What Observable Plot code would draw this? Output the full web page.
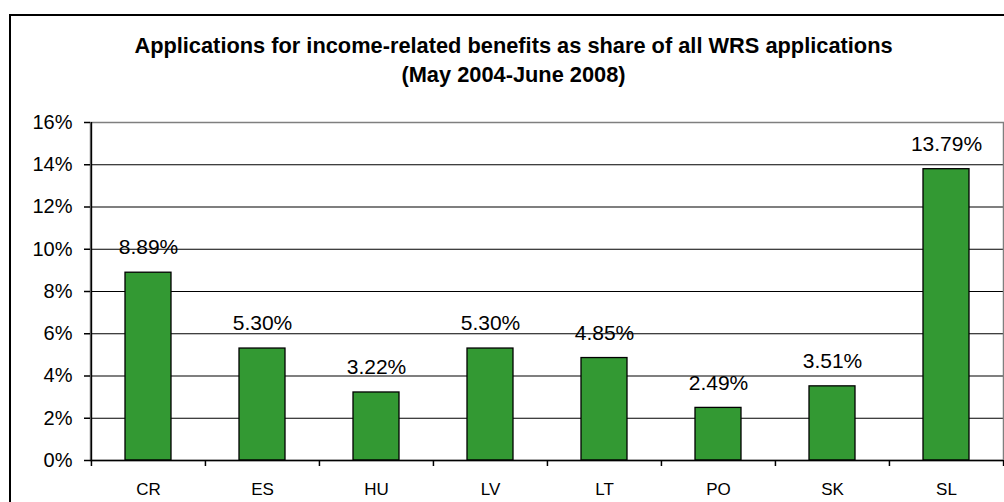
<!DOCTYPE html>
<html><head><meta charset="utf-8">
<script src="https://cdn.jsdelivr.net/npm/d3@7"></script>
<script src="https://cdn.jsdelivr.net/npm/@observablehq/plot@0.6"></script>
<style>
body{margin:0;background:#fff;font-family:"Liberation Sans",Arial,sans-serif;}
#wrap{position:relative;width:1004px;height:502px;overflow:hidden;background:#fff;}
#border{position:absolute;left:9px;top:14px;width:1020px;height:520px;border:2px solid #000;box-sizing:border-box;z-index:2;pointer-events:none;}
.t{position:absolute;left:0;width:1027px;text-align:center;font-weight:bold;font-size:21.8px;line-height:24px;color:#000;white-space:nowrap;}
#chart{position:absolute;left:0;top:100px;z-index:1;}
</style></head>
<body>
<div id="wrap">
  <div id="border"></div>
  <div class="t" id="t1" style="top:34px"></div>
  <div class="t" id="t2" style="top:63px"></div>
  <div id="chart"></div>
</div>
<script>
const titleLines = ["Applications for income-related benefits as share of all WRS applications", "(May 2004-June 2008)"];
const countries = ["CR","ES","HU","LV","LT","PO","SK","SL"];
const shares = [8.89, 5.30, 3.22, 5.30, 4.85, 2.49, 3.51, 13.79];
const yTicks = [0, 2, 4, 6, 8, 10, 12, 14, 16];

document.getElementById("t1").textContent = titleLines[0];
document.getElementById("t2").textContent = titleLines[1];

const data = countries.map((c, i) => ({country: c, share: shares[i]}));

const W = 1004, H = 402, mL = 90, mR = 1, mT = 22, mB = 42;
const step = (W - mL - mR) / countries.length;

const chart = Plot.plot({
  width: W, height: H,
  marginLeft: mL, marginRight: mR, marginTop: mT, marginBottom: mB,
  style: {fontFamily: "'Liberation Sans', Arial, sans-serif", background: "transparent", color: "#000"},
  x: {domain: countries, type: "band", paddingInner: 0.6, paddingOuter: 0.3, label: null},
  y: {domain: [0, 16], label: null},
  marks: [
    Plot.ruleY(yTicks.filter(t => t > 0 && t < 16), {y: d => d, stroke: "#000", strokeWidth: 1.2}),
    Plot.frame({stroke: "#7f7f7f", strokeWidth: 1.5}),
    Plot.barY(data, {x: "country", y: "share", fill: "#339933", stroke: "#000", strokeWidth: 1.3}),
    Plot.ruleX([0], {x: () => countries[0], dx: -step / 2, stroke: "#000", strokeWidth: 1.5}),
    Plot.ruleY([0], {stroke: "#000", strokeWidth: 1.5}),
    Plot.ruleX(countries, {x: d => d, dx: -step / 2, y1: 0, y2: 0, insetBottom: -6, stroke: "#000", strokeWidth: 1.5}),
    Plot.ruleX([countries[countries.length - 1]], {x: d => d, dx: step / 2, y1: 0, y2: 0, insetBottom: -6, stroke: "#000", strokeWidth: 1.5}),
    Plot.ruleY(yTicks, {y: d => d, insetLeft: -6, insetRight: W - mL - mR, stroke: "#000", strokeWidth: 1.5}),
    Plot.axisY({ticks: yTicks, tickFormat: d => d + "%", tickSize: 0, tickPadding: 18, fontSize: 20}),
    Plot.axisX({tickSize: 0, tickPadding: 22, fontSize: 17}),
    Plot.text(data, {x: "country", y: "share", text: d => d.share.toFixed(2) + "%", dy: -25, fontSize: 21, lineAnchor: "middle", fill: "#000"})
  ]
});
document.getElementById("chart").appendChild(chart);
</script>
</body></html>
